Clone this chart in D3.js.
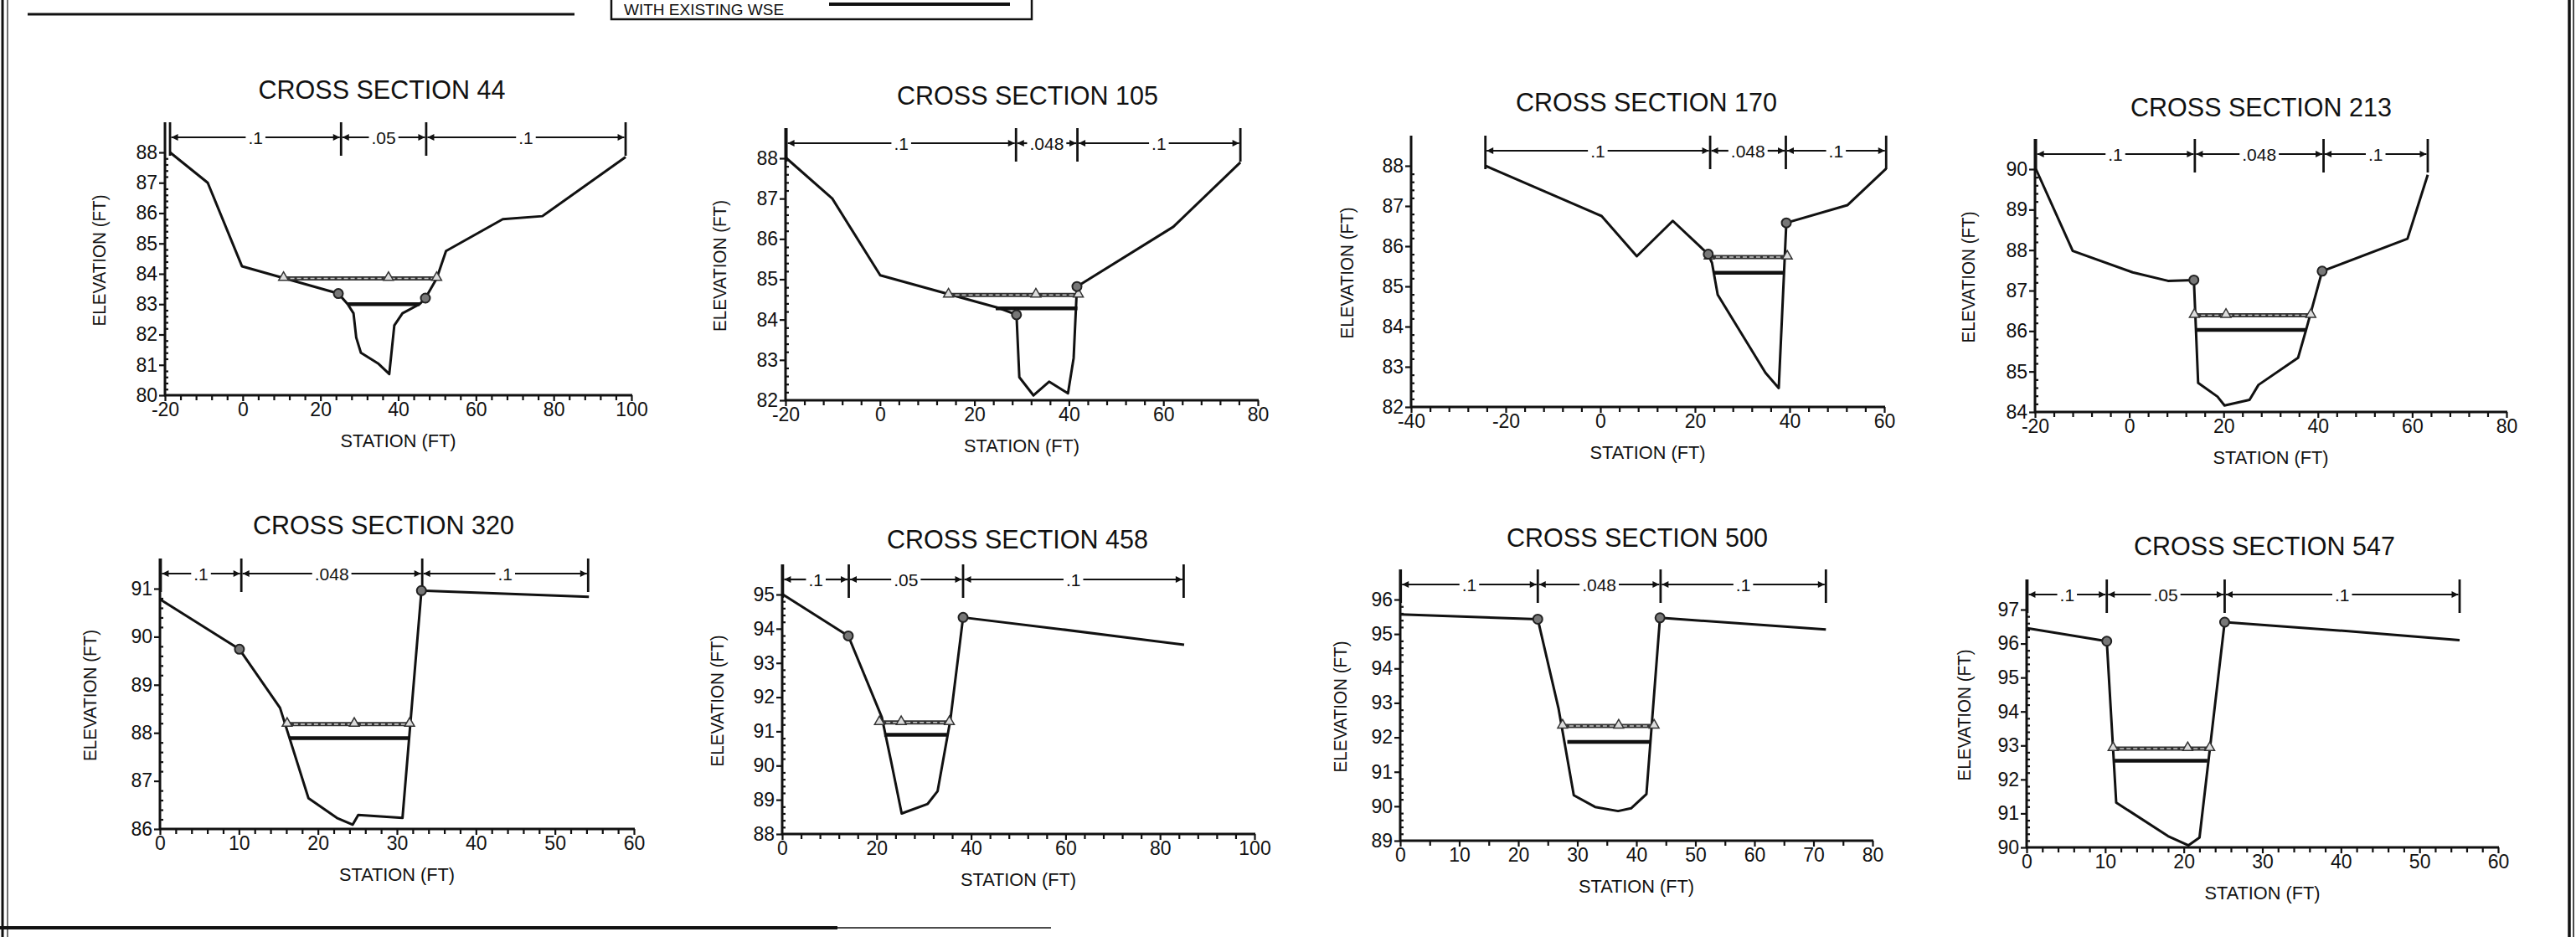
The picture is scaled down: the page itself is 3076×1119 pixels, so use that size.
<!DOCTYPE html>
<html><head><meta charset="utf-8">
<script src="https://cdn.jsdelivr.net/npm/d3@7"></script>
<style>
body{margin:0;background:#fff}
svg{display:block}
text{font-family:"Liberation Sans",Arial,Helvetica,sans-serif;fill:#111}
</style>
</head><body>
<svg id="c" width="3076" height="1119"></svg>
<script>
// ---------------- DATA ----------------
const sectionTitles = ["CROSS SECTION 44","CROSS SECTION 105","CROSS SECTION 170","CROSS SECTION 213",
                       "CROSS SECTION 320","CROSS SECTION 458","CROSS SECTION 500","CROSS SECTION 547"];

// ground profiles [station, elevation]
const ground44  = [[-18.7,88.0],[-9,87.0],[-0.2,84.25],[24.6,83.35],[27,83.0],[28.5,82.7],[29.2,81.9],[30.4,81.4],[34.8,81.05],[37.7,80.7],[39,82.3],[41.1,82.7],[45.5,83.0],[47,83.2],[49.9,83.85],[52.3,84.75],[66.9,85.8],[77.1,85.9],[98.5,87.85]];
const ground105 = [[-19.8,88.0],[-10.1,87.0],[0.05,85.1],[24.8,84.3],[28.9,84.12],[29.5,82.57],[32.5,82.12],[35.8,82.46],[39.8,82.17],[41.0,83.05],[41.7,84.82],[62.1,86.3],[76.3,87.9]];
const ground170 = [[-24.3,88.0],[0.26,86.75],[7.7,85.75],[15.3,86.63],[22.8,85.8],[23.6,85.58],[24.8,84.79],[34.9,82.85],[37.7,82.47],[39.3,86.58],[52.2,87.02],[60.4,87.93]];
const ground213 = [[-19.8,90.0],[-12,87.98],[0.7,87.45],[8.2,87.24],[13.7,87.26],[14.6,84.72],[18.7,84.38],[20.2,84.16],[25.5,84.3],[27.4,84.67],[35.8,85.34],[37.5,86.03],[40.9,87.48],[59,88.28],[63.3,89.86]];
const ground320 = [[0.1,90.77],[10.06,89.74],[15.2,88.52],[18.8,86.64],[22.4,86.23],[24.4,86.09],[25.1,86.29],[30.7,86.23],[33.1,90.96],[54.3,90.83]];
const ground458 = [[0.16,95.0],[14.0,93.79],[21.1,91.41],[23.1,90.1],[25.3,88.6],[30.8,88.88],[32.9,89.25],[35.6,91.33],[38.3,94.33],[59.3,93.98],[85.1,93.53]];
const ground500 = [[0.1,95.57],[23.3,95.43],[26.8,92.85],[29.4,90.32],[33,89.98],[36.9,89.86],[39.1,89.94],[41.7,90.35],[44.0,95.47],[72.1,95.13]];
const ground547 = [[0.1,96.45],[10.2,96.07],[11.4,91.32],[18.0,90.33],[20.6,90.06],[22.0,90.29],[25.2,96.63],[40.6,96.37],[55.1,96.1]];
const groundProfiles = [ground44,ground105,ground170,ground213,ground320,ground458,ground500,ground547];

// bank station points (circles)
const bankPoints = [
  [[24.6,83.35],[47.0,83.2]],
  [[28.9,84.12],[41.7,84.82]],
  [[22.8,85.8],[39.3,86.58]],
  [[13.7,87.26],[40.9,87.48]],
  [[10.06,89.74],[33.1,90.96]],
  [[14.0,93.79],[38.3,94.33]],
  [[23.3,95.43],[44.0,95.47]],
  [[10.2,96.07],[25.2,96.63]]
];

// Manning's n subdivisions: breakpoints and values
const roughStations = [[-18.7,25.3,47.2,98.5],[-19.8,28.8,41.8,76.3],[-24.3,23.2,39.2,60.4],[-19.8,13.9,41.2,63.3],
                       [0.1,10.3,33.2,54.2],[0.16,14.1,38.3,85.0],[0.1,23.3,44.1,72.1],[0.1,10.2,25.2,55.1]];
const roughValues = [[".1",".05",".1"],[".1",".048",".1"],[".1",".048",".1"],[".1",".048",".1"],
                     [".1",".048",".1"],[".1",".05",".1"],[".1",".048",".1"],[".1",".05",".1"]];

// water surfaces: [elevation, from station, to station, middle marker station]
const wseTriangle = [[83.85,10.5,49.9,37.5],[84.61,14.5,42,33],[85.73,23,39.5,null],[86.39,13.8,38.5,20.5],
                     [88.18,16.1,31.6,24.6],[91.26,20.6,35.4,25.2],[92.33,27.5,43,37],[92.91,11.0,23.3,20.5]];
// existing WSE: [elevation, from station, to station]
const wseExisting = [[83.0,27,45.5],[84.28,24.5,41.8],[85.34,24.0,38.8],[86.03,14.3,37.5],
                     [87.89,16.4,31.5],[90.9,21.6,34.9],[91.87,28.3,42.5],[92.55,11.2,23.0]];

// axes
const xDomains = [[-20,100],[-20,80],[-40,60],[-20,80],[0,60],[0,100],[0,80],[0,60]];
const xMajorSteps = [20,20,20,20,10,20,10,10];
const xMinorSteps = [4,4,4,4,2,4,5,2];
const yDomains = [[80,88],[82,88],[82,88],[84,90],[86,91],[88,95],[89,96],[90,97]];
const yMajorStep = 1, yMinorStep = 0.2;
const legendLabel = "WITH EXISTING WSE";

// ---------------- LAYOUT ----------------
const layout = [
  {L:197, R:754, T:182, B:472, tx:456,  ty:118, ex:118},
  {L:938, R:1502,T:189, B:478, tx:1227, ty:125, ex:859},
  {L:1685,R:2250,T:198, B:486, tx:1966, ty:133, ex:1608},
  {L:2430,R:2993,T:202, B:492, tx:2700, ty:139, ex:2350},
  {L:191, R:757, T:703, B:990, tx:458,  ty:638, ex:107},
  {L:934, R:1498,T:710, B:996, tx:1215, ty:655, ex:856},
  {L:1672,R:2236,T:716, B:1004,tx:1955, ty:653, ex:1600},
  {L:2420,R:2983,T:728, B:1012,tx:2704, ty:663, ex:2345}
];

const INK = "#111";
const svg = d3.select("#c");
svg.append("rect").attr("width",3076).attr("height",1119).attr("fill","#fff");
const defs = svg.append("defs");
defs.append("marker").attr("id","arr").attr("viewBox","0 0 10 10")
  .attr("refX",10).attr("refY",5).attr("markerWidth",11).attr("markerHeight",8)
  .attr("markerUnits","userSpaceOnUse").attr("orient","auto")
  .append("path").attr("d","M0,0L10,5L0,10Z").attr("fill",INK);

// frame / page elements
svg.append("line").attr("x1",3).attr("x2",3).attr("y1",0).attr("y2",1119).attr("stroke",INK).attr("stroke-width",3);
svg.append("line").attr("x1",9).attr("x2",9).attr("y1",0).attr("y2",1119).attr("stroke",INK).attr("stroke-width",1.2);
svg.append("line").attr("x1",3068).attr("x2",3068).attr("y1",0).attr("y2",1119).attr("stroke",INK).attr("stroke-width",3.5);
svg.append("line").attr("x1",3073).attr("x2",3073).attr("y1",0).attr("y2",1119).attr("stroke",INK).attr("stroke-width",1.5);
svg.append("line").attr("x1",0).attr("x2",1000).attr("y1",1108).attr("y2",1108).attr("stroke",INK).attr("stroke-width",4);
svg.append("line").attr("x1",1000).attr("x2",1255).attr("y1",1108).attr("y2",1108).attr("stroke",INK).attr("stroke-width",1.5);
svg.append("line").attr("x1",33).attr("x2",686).attr("y1",17).attr("y2",17).attr("stroke",INK).attr("stroke-width",3);
// legend box (cut at top of page)
svg.append("rect").attr("x",730).attr("y",-40).attr("width",502).attr("height",63)
  .attr("fill","none").attr("stroke",INK).attr("stroke-width",2.5);
svg.append("text").attr("x",745).attr("y",18).attr("font-size",19).text(legendLabel);
svg.append("line").attr("x1",990).attr("x2",1206).attr("y1",5).attr("y2",5).attr("stroke",INK).attr("stroke-width",4);

function styleAxis(sel, fs){
  sel.attr("font-size",fs).attr("font-family","'Liberation Sans',Arial,sans-serif");
  sel.selectAll("line").attr("stroke",INK).attr("stroke-width",2.2);
  sel.selectAll("text").attr("fill",INK);
  sel.select(".domain").remove();
}

sectionTitles.forEach((title,i)=>{
  const lay = layout[i];
  const x = d3.scaleLinear().domain(xDomains[i]).range([lay.L, lay.R]);
  const y = d3.scaleLinear().domain(yDomains[i]).range([lay.B, lay.T]);
  const g = svg.append("g");
  const ay = lay.T - 18;
  const [x0,x1] = xDomains[i];
  const [y0,y1] = yDomains[i];

  // axis lines
  g.append("line").attr("x1",lay.L).attr("x2",lay.L).attr("y1",lay.B+1).attr("y2",ay-18)
    .attr("stroke",INK).attr("stroke-width",3);
  g.append("line").attr("x1",lay.L-1).attr("x2",lay.R+1).attr("y1",lay.B).attr("y2",lay.B)
    .attr("stroke",INK).attr("stroke-width",3);

  // x ticks
  const xs = xMajorSteps[i];
  const xMajor = d3.range(x0, x1+1e-6, xs);
  const xMinor = d3.range(x0, x1+1e-6, xMinorSteps[i]).filter(v=>Math.abs(v/xs-Math.round(v/xs))>1e-6);
  g.append("g").attr("transform",`translate(0,${lay.B})`)
    .call(d3.axisBottom(x).tickValues(xMinor).tickSize(6).tickFormat(""))
    .call(s=>styleAxis(s,23));
  g.append("g").attr("transform",`translate(0,${lay.B})`)
    .call(d3.axisBottom(x).tickValues(xMajor).tickSizeInner(7).tickSizeOuter(0).tickPadding(2).tickFormat(d=>String(d)))
    .call(s=>styleAxis(s,23));

  // y ticks
  const yMajor = d3.range(y0, y1+1e-6, yMajorStep);
  const yMinor = d3.range(y0, y1+1e-6, yMinorStep).filter(v=>Math.abs(v-Math.round(v))>1e-6);
  g.append("g").attr("transform",`translate(${lay.L},0)`)
    .call(d3.axisRight(y).tickValues(yMinor).tickSize(4).tickFormat(""))
    .call(s=>styleAxis(s,23));
  g.append("g").attr("transform",`translate(${lay.L},0)`)
    .call(d3.axisLeft(y).tickValues(yMajor).tickSizeInner(7).tickSizeOuter(0).tickPadding(2).tickFormat(d=>String(d)))
    .call(s=>styleAxis(s,23));

  // titles and axis labels
  g.append("text").attr("x",lay.tx).attr("y",lay.ty).attr("text-anchor","middle").attr("font-size",30.5).text(title);
  g.append("text").attr("transform",`translate(${lay.ex},${(lay.T+lay.B)/2-16}) rotate(-90)`)
    .attr("text-anchor","middle").attr("dominant-baseline","central").attr("font-size",22)
    .attr("textLength",157).attr("lengthAdjust","spacingAndGlyphs").text("ELEVATION (FT)");
  g.append("text").attr("x",(lay.L+lay.R)/2).attr("y",lay.B+62).attr("text-anchor","middle")
    .attr("font-size",22).attr("textLength",138).attr("lengthAdjust","spacingAndGlyphs").text("STATION (FT)");

  // roughness annotation
  const rs = roughStations[i];
  rs.forEach(s=>{
    g.append("line").attr("x1",x(s)).attr("x2",x(s)).attr("y1",ay-18).attr("y2",ay+22)
      .attr("stroke",INK).attr("stroke-width",2.8);
  });
  for(let k=0;k<3;k++){
    const xa = x(rs[k])+1.5, xb = x(rs[k+1])-1.5, xm = (xa+xb)/2;
    const t = g.append("text").attr("x",xm).attr("y",ay+7.5).attr("text-anchor","middle")
      .attr("font-size",21).text(roughValues[i][k]);
    const w = t.node().getComputedTextLength();
    g.append("line").attr("x1",xm-w/2-3).attr("x2",xa).attr("y1",ay).attr("y2",ay)
      .attr("stroke",INK).attr("stroke-width",2.2).attr("marker-end","url(#arr)");
    g.append("line").attr("x1",xm+w/2+3).attr("x2",xb).attr("y1",ay).attr("y2",ay)
      .attr("stroke",INK).attr("stroke-width",2.2).attr("marker-end","url(#arr)");
  }

  // ground
  g.append("path").datum(groundProfiles[i])
    .attr("d",d3.line().x(d=>x(d[0])).y(d=>y(d[1])))
    .attr("fill","none").attr("stroke",INK).attr("stroke-width",3).attr("stroke-linejoin","round");

  // existing WSE
  const [ee,ea,eb] = wseExisting[i];
  g.append("line").attr("x1",x(ea)).attr("x2",x(eb)).attr("y1",y(ee)).attr("y2",y(ee))
    .attr("stroke",INK).attr("stroke-width",4.5);

  // triangle WSE
  const [te,ta,tb,tm] = wseTriangle[i];
  g.append("line").attr("x1",x(ta)).attr("x2",x(tb)).attr("y1",y(te)).attr("y2",y(te))
    .attr("stroke","#333").attr("stroke-width",5);
  g.append("line").attr("x1",x(ta)).attr("x2",x(tb)).attr("y1",y(te)).attr("y2",y(te))
    .attr("stroke","#c8c8c8").attr("stroke-width",1.6).attr("stroke-dasharray","5,3");
  [ta,tm,tb].filter(v=>v!=null).forEach(v=>{
    g.append("path").attr("d",d3.symbol(d3.symbolTriangle,60)())
      .attr("transform",`translate(${x(v)},${y(te)-1})`)
      .attr("fill","#ddd").attr("stroke","#333").attr("stroke-width",1.5);
  });

  // bank circles
  bankPoints[i].forEach(p=>{
    g.append("circle").attr("cx",x(p[0])).attr("cy",y(p[1])).attr("r",5.5)
      .attr("fill","#777").attr("stroke","#222").attr("stroke-width",2);
  });
});
</script>
</body></html>
